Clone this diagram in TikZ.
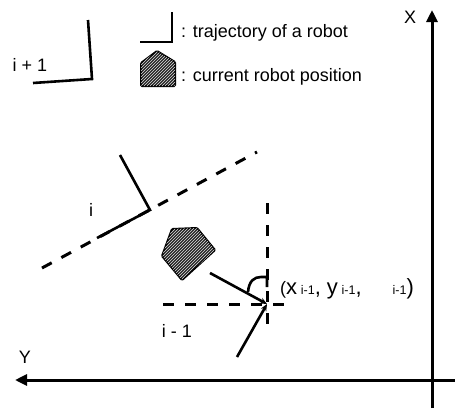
\documentclass[tikz,border=0pt]{standalone}
\usepackage{fontspec}
\setmainfont{Liberation Sans}
\usetikzlibrary{arrows.meta,patterns}

\newcommand{\bigxy}{\fontsize{22}{24}\selectfont}
\newcommand{\subidx}[1]{{\fontsize{12.5}{14}\selectfont #1}}

\begin{document}
\begin{tikzpicture}[x=1pt,y=-1pt,
  lbl/.style={inner sep=0pt,font=\fontsize{18}{21}\selectfont},
  traj/.style={line width=2.6pt,line join=miter},
  axis/.style={line width=3pt,-{Triangle[length=12pt,width=11pt]}},
  refline/.style={line width=3pt,dash pattern=on 11pt off 11pt},
  heading/.style={line width=2.6pt,-{Stealth[length=7pt,width=6pt]}},
  robot/.style={draw,line width=2pt,rounded corners=1pt,fill=black!85,
                postaction={pattern=north east lines,pattern color=white!75!gray}}
]
\useasboundingbox (0,0) rectangle (455,410);

% axes
\coordinate (xbot) at (432,408);
\coordinate (xtop) at (432,10);
\coordinate (yright) at (455,380);
\coordinate (yleft) at (15,380);
\draw[axis] (xbot) -- (xtop);
\draw[axis] (yright) -- (yleft);
\node[lbl] (xlab) at (410,17) {X};
\node[lbl] (ylab) at (25,357) {Y};

% legend
\coordinate (lg1) at (172,12);
\coordinate (lg2) at (172,42);
\coordinate (lg3) at (140,42);
\draw[traj] (lg1) -- (lg2) -- (lg3);
\node[lbl,anchor=west] (lgtraj) at (181,33) {: trajectory of a robot};
\draw[robot] (157,51) -- (175,62) -- (175,86) -- (141,86) -- (141,63) -- cycle;
\node[lbl,anchor=west] (lgpos) at (181,77) {: current robot position};

% trajectory i+1
\coordinate (a1) at (88,20);
\coordinate (a2) at (92,79);
\coordinate (a3) at (33,83);
\draw[traj] (a1) -- (a2) -- (a3);
\node[lbl] (lab1) at (30,65) {i + 1};

% trajectory i
\coordinate (r1) at (42,268);
\coordinate (r2) at (257,152);
\draw[refline] (r1) -- (r2);
\coordinate (b1) at (120,155);
\coordinate (b2) at (150,210);
\coordinate (b3) at (97,238);
\draw[traj] (b1) -- (b2) -- (b3);
\node[lbl] (lab2) at (91,210) {i};

% robot
\draw[robot] (172,229) -- (197,228) -- (215,250) -- (182,280) -- (162,256) -- cycle;

% pose i-1
\coordinate (p) at (267,304);
\coordinate (v1) at (267,203);
\coordinate (v2) at (267,333);
\coordinate (h1) at (163,304);
\coordinate (h2) at (293,304);
\draw[refline] (v1) -- (v2);
\draw[refline] (h1) -- (h2);
\coordinate (c1) at (210,273);
\coordinate (c2) at (237,357);
\draw[heading] (c1) -- (p);
\draw[heading] (c2) -- (p);
\draw[line width=2.6pt] (248,292) .. controls (249,281) and (254,277) .. (261,277) -- (267,277) -- (267,287);
\node[lbl,anchor=base west] (pose) at (280,294)
  {(\bigxy x\,\subidx{i-1}, \bigxy y\,\subidx{i-1},\hspace{31pt}\subidx{i-1})};
\node[lbl] (lab3) at (177,331) {i - 1};
\end{tikzpicture}
\end{document}
